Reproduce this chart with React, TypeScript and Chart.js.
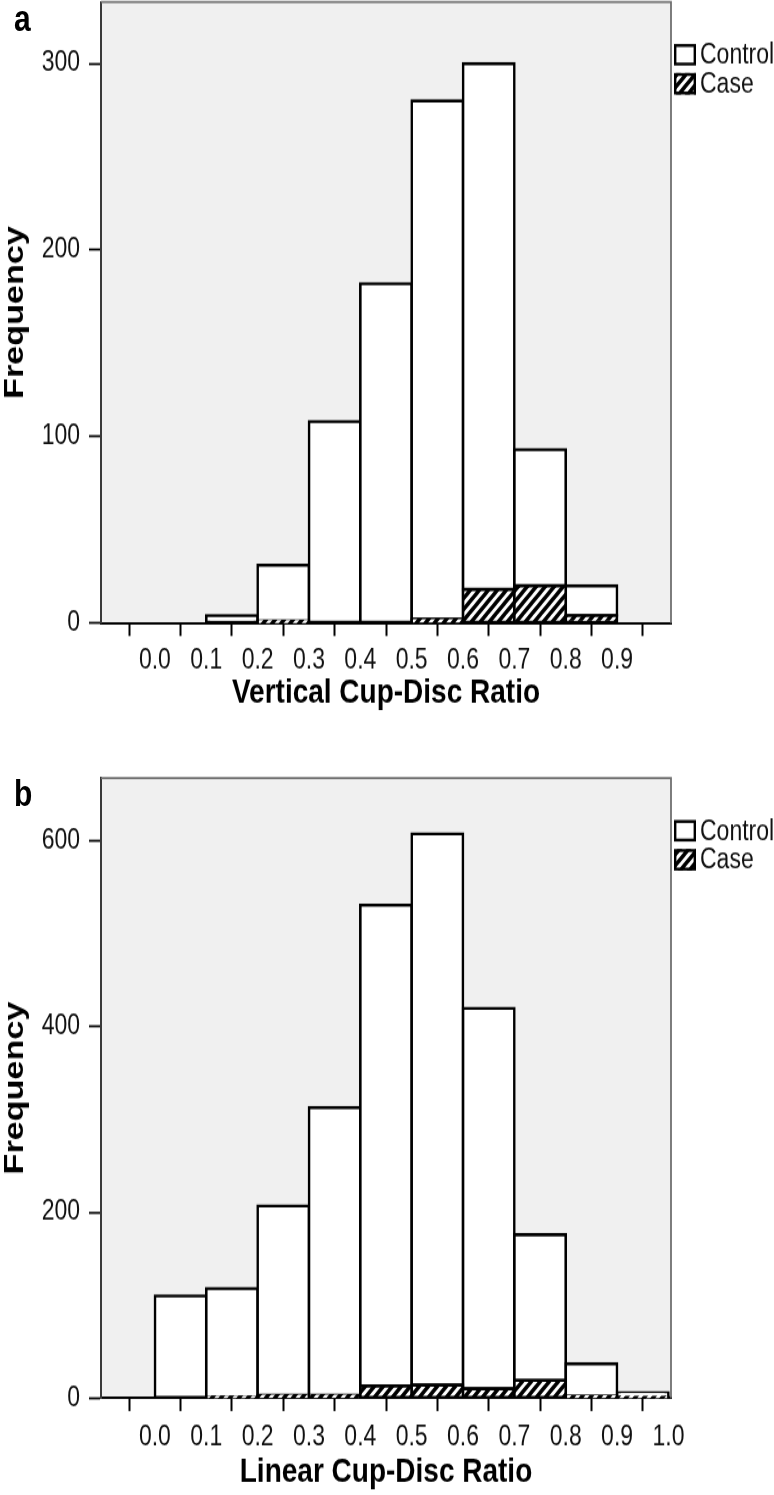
import React, { useEffect, useRef } from 'react';
import { Chart, registerables } from 'chart.js';

Chart.register(...registerables);

// ---------- data ----------
const BIN_CENTERS = [-0.05, 0.05, 0.15, 0.25, 0.35, 0.45, 0.55, 0.65, 0.75, 0.85, 0.95];

const TICK_VALUES_A = [0, 0.1, 0.2, 0.3, 0.4, 0.5, 0.6, 0.7, 0.8, 0.9];
const TICK_LABELS_A = ['0.0', '0.1', '0.2', '0.3', '0.4', '0.5', '0.6', '0.7', '0.8', '0.9'];
const TICK_VALUES_B = [0, 0.1, 0.2, 0.3, 0.4, 0.5, 0.6, 0.7, 0.8, 0.9, 1.0];
const TICK_LABELS_B = ['0.0', '0.1', '0.2', '0.3', '0.4', '0.5', '0.6', '0.7', '0.8', '0.9', '1.0'];

const Y_TICKS_A = [0, 100, 200, 300];
const Y_TICKS_B = [0, 200, 400, 600];

const A_CONTROL = [null, null, 4, 30, 108, 182, 278, 282, 73, 16, null];
const A_CASE = [null, null, null, 1, null, null, 2, 18, 20, 4, null];

const B_CONTROL = [null, 110, 117, 204, 310, 518, 594, 410, 157, 35, 5];
const B_CASE = [null, null, 1, 3, 3, 13, 14, 10, 19, 2, 1];

const SERIES = ['Control', 'Case'];

// ---------- style ----------
const FONT = "'Liberation Sans', Arial, sans-serif";
const K = 1.22; // vertical stretch of the original figure
const X_MIN = -0.105;
const X_MAX = 1.005;

function makeHatch(): CanvasPattern {
  const s = 9;
  const c = document.createElement('canvas');
  c.width = s;
  c.height = s;
  const g = c.getContext('2d') as CanvasRenderingContext2D;
  g.fillStyle = '#ffffff';
  g.fillRect(0, 0, s, s);
  g.strokeStyle = '#000000';
  g.lineWidth = 3.4;
  g.beginPath();
  g.moveTo(-1, s + 1);
  g.lineTo(s + 1, -1);
  g.moveTo(-2, 2);
  g.lineTo(2, -2);
  g.moveTo(s - 2, s + 2);
  g.lineTo(s + 2, s - 2);
  g.stroke();
  return g.createPattern(c, 'repeat') as CanvasPattern;
}

interface PanelProps {
  top: number; // page px
  canvasH: number; // canvas px (before vertical stretch)
  chartTop: number; // page px, relative to panel top
  chartBottom: number;
  labelCenter: number;
  titleCenter: number;
  control: (number | null)[];
  cases: (number | null)[];
  tickValues: number[];
  tickLabels: string[];
  yTicks: number[];
  yMax: number;
  xTitle: string;
  letter: string;
  letterTop: number;
}

function Panel(p: PanelProps) {
  const ref = useRef<HTMLCanvasElement | null>(null);

  const padTop = p.chartTop / K;
  const bottomC = p.chartBottom / K;
  const xH = 13 / K;
  const x2Top = bottomC + xH;
  const x2H = p.canvasH - x2Top;
  const labelLH = 23 * 1.2;
  const labelPad = p.labelCenter / K - x2Top - labelLH / 2;
  const titlePad = p.canvasH - p.titleCenter / K - 14;

  useEffect(() => {
    const canvas = ref.current;
    if (!canvas) return;
    const hatch = makeHatch();

    const framePlugin = {
      id: 'frameAndLegend',
      beforeDraw(chart: any) {
        const { ctx, chartArea: a } = chart;
        ctx.save();
        ctx.fillStyle = '#f0f0f0';
        ctx.fillRect(a.left, a.top, a.right - a.left, a.bottom - a.top);
        ctx.restore();
      },
      afterDraw(chart: any) {
        const { ctx, chartArea: a } = chart;
        ctx.save();
        ctx.strokeStyle = '#707070';
        ctx.lineWidth = 1.8;
        ctx.beginPath();
        ctx.moveTo(a.left, a.top);
        ctx.lineTo(a.right, a.top);
        ctx.lineTo(a.right, a.bottom);
        ctx.stroke();
        // legend
        const bx = a.right + 3;
        const bh = 21.5 / K;
        const rows = [
          { name: SERIES[0], fill: '#ffffff' as any, y: a.top + 42 / K },
          { name: SERIES[1], fill: hatch as any, y: a.top + 71 / K },
        ];
        ctx.font = `23px ${FONT}`;
        ctx.textBaseline = 'middle';
        ctx.textAlign = 'left';
        for (const r of rows) {
          ctx.fillStyle = r.fill;
          ctx.fillRect(bx, r.y, 22, bh);
          ctx.strokeStyle = '#000';
          ctx.lineWidth = 2.4;
          ctx.strokeRect(bx + 1.2, r.y + 1.2, 19.6, bh - 2.4);
          ctx.fillStyle = '#111';
          ctx.fillText(r.name, bx + 26, r.y + bh / 2 + 1);
        }
        ctx.restore();
      },
    };

    const barCommon = {
      borderColor: '#000000',
      borderWidth: 2.6,
      borderSkipped: false,
      inflateAmount: 1.3,
      barPercentage: 1,
      categoryPercentage: 1,
      xAxisID: 'x',
      yAxisID: 'y',
      stack: 'all',
    };

    const chart = new Chart(canvas, {
      type: 'bar',
      data: {
        datasets: [
          {
            ...barCommon,
            label: SERIES[1],
            data: BIN_CENTERS.map((x, i) => ({ x, y: p.cases[i] })),
            backgroundColor: hatch,
          } as any,
          {
            ...barCommon,
            label: SERIES[0],
            data: BIN_CENTERS.map((x, i) => ({ x, y: p.control[i] })),
            backgroundColor: '#ffffff',
          } as any,
        ],
      },
      options: {
        animation: false,
        responsive: false,
        maintainAspectRatio: false,
        devicePixelRatio: 1,
        layout: { padding: { top: padTop, right: 103, left: 0, bottom: 0 } },
        plugins: { legend: { display: false }, tooltip: { enabled: false } },
        scales: {
          x: {
            type: 'linear',
            position: 'bottom',
            weight: 0,
            offset: false,
            min: X_MIN,
            max: X_MAX,
            stacked: true,
            afterBuildTicks: (ax: any) => {
              ax.ticks = BIN_CENTERS.map((v) => ({ value: v }));
            },
            afterFit: (ax: any) => {
              ax.height = xH;
              ax.paddingLeft = 0;
              ax.paddingRight = 0;
            },
            ticks: { display: false },
            grid: {
              display: true,
              offset: false,
              drawOnChartArea: false,
              drawTicks: true,
              tickLength: xH,
              tickColor: '#000',
              tickWidth: 2,
            },
            border: { display: true, color: '#000', width: 2 },
          },
          x2: {
            type: 'linear',
            position: 'bottom',
            weight: 1,
            offset: false,
            min: X_MIN,
            max: X_MAX,
            afterBuildTicks: (ax: any) => {
              ax.ticks = p.tickValues.map((v) => ({ value: v }));
            },
            afterFit: (ax: any) => {
              ax.height = x2H;
              ax.paddingLeft = 0;
              ax.paddingRight = 0;
            },
            ticks: {
              autoSkip: false,
              maxRotation: 0,
              minRotation: 0,
              padding: labelPad,
              color: '#111',
              font: { family: FONT, size: 23, lineHeight: 1.2 },
              callback: (_v: any, i: number) => p.tickLabels[i],
            },
            grid: { display: false, drawTicks: false, offset: false },
            border: { display: false },
            title: {
              display: true,
              text: p.xTitle,
              color: '#000',
              font: { family: FONT, size: 28, weight: 'bold', lineHeight: 1 },
              padding: { top: 0, bottom: titlePad },
            },
          },
          y: {
            type: 'linear',
            position: 'left',
            min: 0,
            max: p.yMax,
            stacked: true,
            afterBuildTicks: (ax: any) => {
              ax.ticks = p.yTicks.map((v) => ({ value: v }));
            },
            afterFit: (ax: any) => {
              ax.width = 101;
              ax.paddingTop = 0;
              ax.paddingBottom = 0;
            },
            ticks: {
              padding: 9,
              color: '#111',
              font: { family: FONT, size: 23 },
            },
            grid: {
              display: true,
              drawOnChartArea: false,
              drawTicks: true,
              tickLength: 12,
              tickColor: '#000',
              tickWidth: 1.8,
            },
            border: { display: true, color: '#3a3a3a', width: 2 },
            title: {
              display: true,
              text: 'Frequency',
              color: '#000',
              font: { family: FONT, size: 28, weight: 'bold', lineHeight: 1 },
              padding: { top: 1, bottom: 0 },
            },
          },
        },
      } as any,
      plugins: [framePlugin],
    });

    return () => chart.destroy();
  }, []);

  return (
    <div
      style={{
        position: 'absolute',
        left: 0,
        top: p.top,
        width: 774,
        height: p.canvasH,
        transform: `scaleY(${K})`,
        transformOrigin: '0 0',
      }}
    >
      <canvas
        ref={ref}
        width={774}
        height={p.canvasH}
        style={{ width: 774, height: p.canvasH, display: 'block' }}
      />
      <div
        style={{
          position: 'absolute',
          left: 14,
          top: p.letterTop,
          fontFamily: FONT,
          fontWeight: 'bold',
          fontSize: 30,
          lineHeight: '30px',
          color: '#000',
        }}
      >
        {p.letter}
      </div>
    </div>
  );
}

export default function App() {
  useEffect(() => {
    document.body.style.margin = '0';
    document.body.style.overflow = 'hidden';
  }, []);
  return (
    <div style={{ position: 'absolute', left: 0, top: 0, width: 774, height: 1495, background: '#fff', overflow: 'hidden' }}>
      <Panel
        top={0}
        canvasH={611}
        chartTop={2}
        chartBottom={623}
        labelCenter={661}
        titleCenter={693}
        control={A_CONTROL}
        cases={A_CASE}
        tickValues={TICK_VALUES_A}
        tickLabels={TICK_LABELS_A}
        yTicks={Y_TICKS_A}
        yMax={333}
        xTitle="Vertical Cup-Disc Ratio"
        letter="a"
        letterTop={0}
      />
      <Panel
        top={745}
        canvasH={615}
        chartTop={33}
        chartBottom={653}
        labelCenter={693}
        titleCenter={727}
        control={B_CONTROL}
        cases={B_CASE}
        tickValues={TICK_VALUES_B}
        tickLabels={TICK_LABELS_B}
        yTicks={Y_TICKS_B}
        yMax={668}
        xTitle="Linear Cup-Disc Ratio"
        letter="b"
        letterTop={25}
      />
    </div>
  );
}
